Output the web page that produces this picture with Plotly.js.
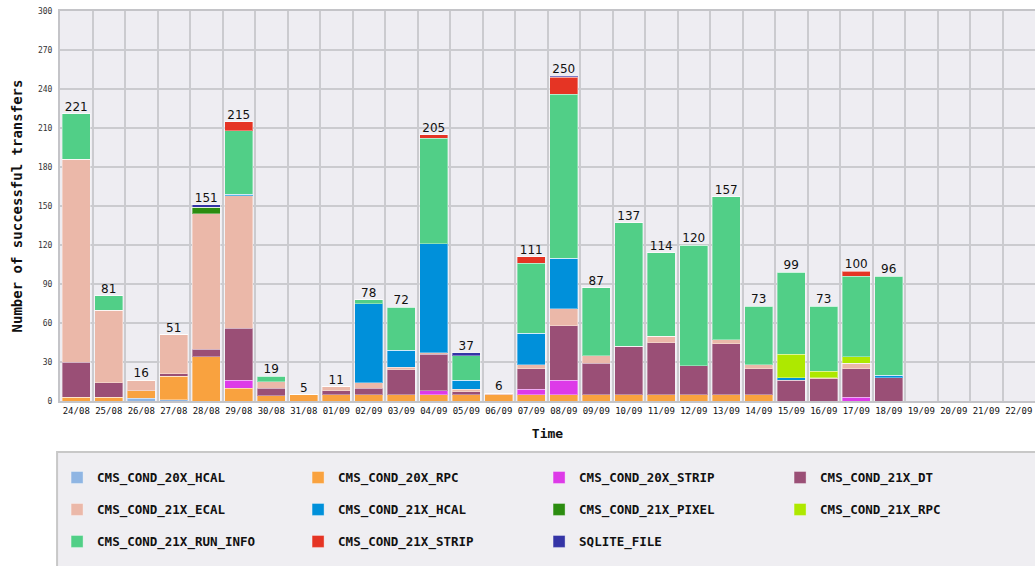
<!DOCTYPE html>
<html>
<head>
<meta charset="utf-8">
<script src="https://cdn.plot.ly/plotly-3.0.1.min.js"></script>
<style>
html,body{margin:0;padding:0;overflow:hidden;background:#ffffff;}
#chart{width:1035px;height:566px;}
</style>
</head>
<body>
<div id="chart"></div>
<script>
const days = ["24/08","25/08","26/08","27/08","28/08","29/08","30/08","31/08","01/09","02/09","03/09","04/09","05/09","06/09","07/09","08/09","09/09","10/09","11/09","12/09","13/09","14/09","15/09","16/09","17/09","18/09","19/09","20/09","21/09","22/09"];

const cond20xHcal   = [0,0,2,1,0,0,0,0,0,0,0,0,0,0,0,0,0,0,0,0,0,0,0,0,0,0,0,0,0,0];
const cond20xRpc    = [3,3,6,18,34,10,4,5,5,5,5,5,5,5,5,5,5,5,5,5,5,5,0,0,0,0,0,0,0,0];
const cond20xStrip  = [0,0,0,0,0,6,0,0,0,0,0,3,0,0,4,11,0,0,0,0,0,0,0,0,3,0,0,0,0,0];
const cond21xDt     = [27,11,0,2,6,40,6,0,3,5,19,28,2,0,16,42,24,37,40,22,39,20,16,17,22,18,0,0,0,0];
const cond21xEcal   = [156,56,8,30,104,102,5,0,3,4,2,1,2,1,3,13,6,0,5,0,3,3,0,1,4,0,0,0,0,0];
const cond21xHcal   = [0,0,0,0,0,1,0,0,0,61,13,84,7,0,24,39,0,0,0,0,0,0,2,0,0,2,0,0,0,0];
const cond21xPixel  = [0,0,0,0,5,0,0,0,0,0,0,0,0,0,0,0,0,0,0,0,0,0,0,0,0,0,0,0,0,0];
const cond21xRpc    = [0,0,0,0,0,0,0,0,0,0,0,0,0,0,0,0,0,0,0,0,0,0,18,5,5,0,0,0,0,0];
const cond21xRunInfo= [35,11,0,0,0,49,4,0,0,3,33,81,19,0,54,126,52,95,64,93,110,45,63,50,62,76,0,0,0,0];
const cond21xStrip  = [0,0,0,0,0,7,0,0,0,0,0,3,0,0,5,13,0,0,0,0,0,0,0,0,4,0,0,0,0,0];
const sqliteFile    = [0,0,0,0,2,0,0,0,0,0,0,0,2,0,0,1,0,0,0,0,0,0,0,0,0,0,0,0,0,0];

const seriesNames = ["CMS_COND_20X_HCAL","CMS_COND_20X_RPC","CMS_COND_20X_STRIP","CMS_COND_21X_DT",
  "CMS_COND_21X_ECAL","CMS_COND_21X_HCAL","CMS_COND_21X_PIXEL","CMS_COND_21X_RPC",
  "CMS_COND_21X_RUN_INFO","CMS_COND_21X_STRIP","SQLITE_FILE"];
const seriesValues = [cond20xHcal,cond20xRpc,cond20xStrip,cond21xDt,cond21xEcal,cond21xHcal,
  cond21xPixel,cond21xRpc,cond21xRunInfo,cond21xStrip,sqliteFile];
const seriesColors = ["#8fb5e3","#f9a23f","#dd3ae8","#9a4f76","#ebb8a9","#0090da",
  "#2b8c10","#aee800","#51cf87","#e53424","#3434a6"];

const legendRows = ["legend","legend","legend","legend","legend2","legend2","legend2","legend2","legend3","legend3","legend3"];

const traces = seriesNames.map((name,i)=>({
  type:"bar", name:name, x:days, y:seriesValues[i],
  marker:{color:seriesColors[i], line:{color:"rgba(255,255,255,0.35)", width:1}},
  legend:legendRows[i], hoverinfo:"name+y"
}));

const totals = days.map((d,j)=>seriesValues.reduce((s,arr)=>s+arr[j],0));
traces.push({
  type:"scatter", mode:"text", x:days, y:totals,
  text:totals.map(t=>t>0?String(t):""), textposition:"top center",
  textfont:{family:"DejaVu Sans", size:12, color:"#111"},
  showlegend:false, hoverinfo:"skip", cliponaxis:false
});

const legFont = {family:"DejaVu Sans Mono", size:12.5, color:"#111", weight:"bold"};
function leg(y){
  return {orientation:"h", x:-0.003, xanchor:"left", y:y, yanchor:"middle",
    entrywidth:196, entrywidthmode:"pixels", itemwidth:30, traceorder:"normal",
    bgcolor:"rgba(0,0,0,0)", borderwidth:0, font:legFont};
}

const layout = {
  width:1035, height:566,
  margin:{l:60, r:0, t:11, b:165},
  paper_bgcolor:"#ffffff", plot_bgcolor:"#eeedf2",
  barmode:"stack", bargap:0.14,
  showlegend:true,
  legend:leg(-0.197), legend2:leg(-0.279), legend3:leg(-0.361),
  xaxis:{type:"category", range:[-0.5, 29.5], tickson:"boundaries", ticks:"", showgrid:true,
    gridcolor:"#cbcbcf", gridwidth:2, showline:true, mirror:true, linecolor:"#c4c4c8", linewidth:2,
    tickfont:{family:"DejaVu Sans Mono", size:9, color:"#111"}, tickangle:0,
    title:{text:"Time", font:{family:"DejaVu Sans Mono", size:13, color:"#111", weight:"bold"}, standoff:14}},
  yaxis:{range:[0,300], tickvals:[0,30,60,90,120,150,180,210,240,270,300], ticks:"",
    showgrid:true, gridcolor:"#cbcbcf", gridwidth:2, zeroline:false,
    showline:true, mirror:true, linecolor:"#c4c4c8", linewidth:2,
    tickfont:{family:"DejaVu Sans Mono", size:8, color:"#333"}, ticklabelstandoff:4,
    title:{text:"Number of successful transfers", font:{family:"DejaVu Sans Mono", size:14, color:"#111", weight:"bold"}, standoff:12}},
  shapes:[{type:"rect", xref:"paper", yref:"paper", x0:-0.003, x1:1.01, y0:-0.131, y1:-0.45,
    fillcolor:"#efeef2", line:{color:"#c8c8c8", width:2}, layer:"below"}]
};

Plotly.newPlot("chart", traces, layout, {displayModeBar:false, staticPlot:true});
</script>
</body>
</html>
